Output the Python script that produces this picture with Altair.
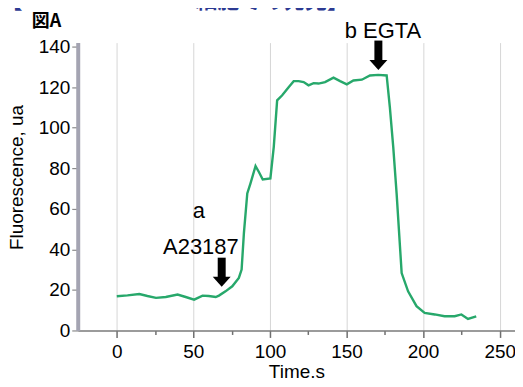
import altair as alt
import pandas as pd

# ---- data ----
time_s = [0, 7, 14.7, 20, 25.6, 32, 39.7, 45, 50.5, 56, 60, 64.6, 66.7, 71, 75.4,
          79.7, 81.5, 83, 85.2, 87.3, 90.6, 92.7, 95.3, 100.3, 102.5, 104.7, 108,
          112.2, 115.5, 118.7, 122, 125.2, 128.5, 131.7, 136, 141.5, 145.8, 150.2,
          154.5, 160, 165.3, 170.7, 176.2, 178.3, 180.5, 182.7, 186, 190.2, 195.7,
          201, 207.6, 214, 220.6, 225, 229.3, 234.7]
fluor = [16.9, 17.3, 18.0, 17.0, 16.1, 16.5, 17.7, 16.5, 15.2, 17.2, 17.0, 16.5,
         17.2, 19.3, 21.8, 25.9, 30.0, 48.0, 67.6, 72.6, 81.1, 78.3, 74.5, 75.0,
         90.6, 113.5, 116.0, 120.0, 123.0, 123.0, 122.5, 120.9, 122.0, 121.8, 122.5,
         124.7, 123.0, 121.4, 123.3, 123.7, 125.8, 126.1, 125.8, 110.0, 90.6, 67.6,
         28.3, 19.3, 12.0, 8.7, 7.9, 7.0, 7.0, 7.9, 5.7, 7.0]

x_ticks = [0, 25, 50, 75, 100, 125, 150, 175, 200, 225, 250]
y_ticks = [0, 20, 40, 60, 80, 100, 120, 140]

# arrows (time, shaft top value, tip value)
arrow_t = [68.5, 170.8]
arrow_top = [35.9, 143.0]
arrow_tip = [21.6, 128.5]

# annotation labels
ann_text = ["a", "A23187", "b EGTA"]
ann_t = [53.6, 54.9, 173.8]
ann_v = [58.9, 41.3, 147.8]

fig_label = ["図A"]
fig_label_t = [-55.5]
fig_label_v = [152.2]

head_title = ["【Case012 A23187細胞での発見】"]
head_title_t = [-76.0]
head_title_v = [159.0]

XDOM = [-25.5, 260]
YDOM = [0, 142]

df = pd.DataFrame({"t": time_s, "v": fluor})
arr = pd.DataFrame({"t": arrow_t, "top": arrow_top, "tip": arrow_tip})
arr["shaft_end"] = arr["tip"] + 4.0
ann = pd.DataFrame({"text": ann_text, "t": ann_t, "v": ann_v})
fig = pd.DataFrame({"text": fig_label, "t": fig_label_t, "v": fig_label_v})
hdr = pd.DataFrame({"text": head_title, "t": head_title_t, "v": head_title_v})

minor_test = "datum.value % 50 !== 0"

xscale = alt.Scale(domain=XDOM, nice=False, zero=False)
yscale = alt.Scale(domain=YDOM, nice=False)

x_axis = alt.Axis(
    values=x_ticks,
    labelExpr="datum.value % 50 === 0 ? datum.label : ''",
    grid=True,
    gridColor={"condition": {"test": minor_test, "value": "transparent"}, "value": "#d6d6d6"},
    gridWidth=1,
    tickSize={"condition": {"test": minor_test, "value": 4}, "value": 7},
    tickColor="#6f6f6f",
    tickWidth=1.5,
    domainColor="#7a7a7a",
    domainWidth=1.5,
    labelFontSize=19,
    labelColor="#000000",
    labelPadding=5,
    labelFlush=False,
    title="Time.s",
    titleFontSize=19,
    titleFontWeight="normal",
    titleColor="#000000",
    titlePadding=1,
)

y_axis = alt.Axis(
    values=y_ticks,
    grid=False,
    domainColor="#a4a4b2",
    domainWidth=4,
    tickColor="#8a8a8a",
    tickSize=6,
    tickWidth=1.2,
    labelFontSize=19,
    labelColor="#000000",
    labelPadding=2,
    labelFlush=False,
    title="Fluorescence, ua",
    titleFontSize=19,
    titleFontWeight="normal",
    titleColor="#000000",
    titleX=-61,
    titleY=135,
    titleAlign="center",
    titleBaseline="middle",
    titleAngle=270,
)

line = alt.Chart(df).mark_line(color="#27a86b", strokeWidth=2.4).encode(
    x=alt.X("t:Q", scale=xscale, axis=x_axis),
    y=alt.Y("v:Q", scale=yscale, axis=y_axis),
)

shaft = alt.Chart(arr).mark_rule(color="black", strokeWidth=8, strokeCap="butt").encode(
    x="t:Q", y="top:Q", y2="shaft_end:Q"
)

head = alt.Chart(arr).mark_point(
    shape="M-1,-1.1L1,-1.1L0,0Z", filled=True, color="black", size=324, opacity=1
).encode(x="t:Q", y="tip:Q")

ann_layer = alt.Chart(ann).mark_text(
    fontSize=22, color="black", align="center", baseline="middle", font="Liberation Sans"
).encode(x="t:Q", y="v:Q", text="text:N")

fig_layer = alt.Chart(fig).mark_text(
    fontSize=18, fontWeight="bold", color="black", align="left", baseline="middle",
    font="Noto Sans CJK JP"
).encode(x="t:Q", y="v:Q", text="text:N")

hdr_layer = alt.Chart(hdr).mark_text(
    fontSize=22, fontWeight="bold", color="#2c3a92", align="left", baseline="alphabetic",
    font="Noto Sans CJK JP"
).encode(x="t:Q", y="v:Q", text="text:N")

chart = alt.layer(line, shaft, head, ann_layer, fig_layer, hdr_layer).properties(
    width=439,
    height=289,
    autosize=alt.AutoSizeParams(type="none"),
    padding={"left": 70, "top": 34, "right": 0, "bottom": 48},
).configure(
    font="Liberation Sans",
).configure_view(stroke=None)

chart.save("out.html", embed_options={"renderer": "svg", "actions": False})
